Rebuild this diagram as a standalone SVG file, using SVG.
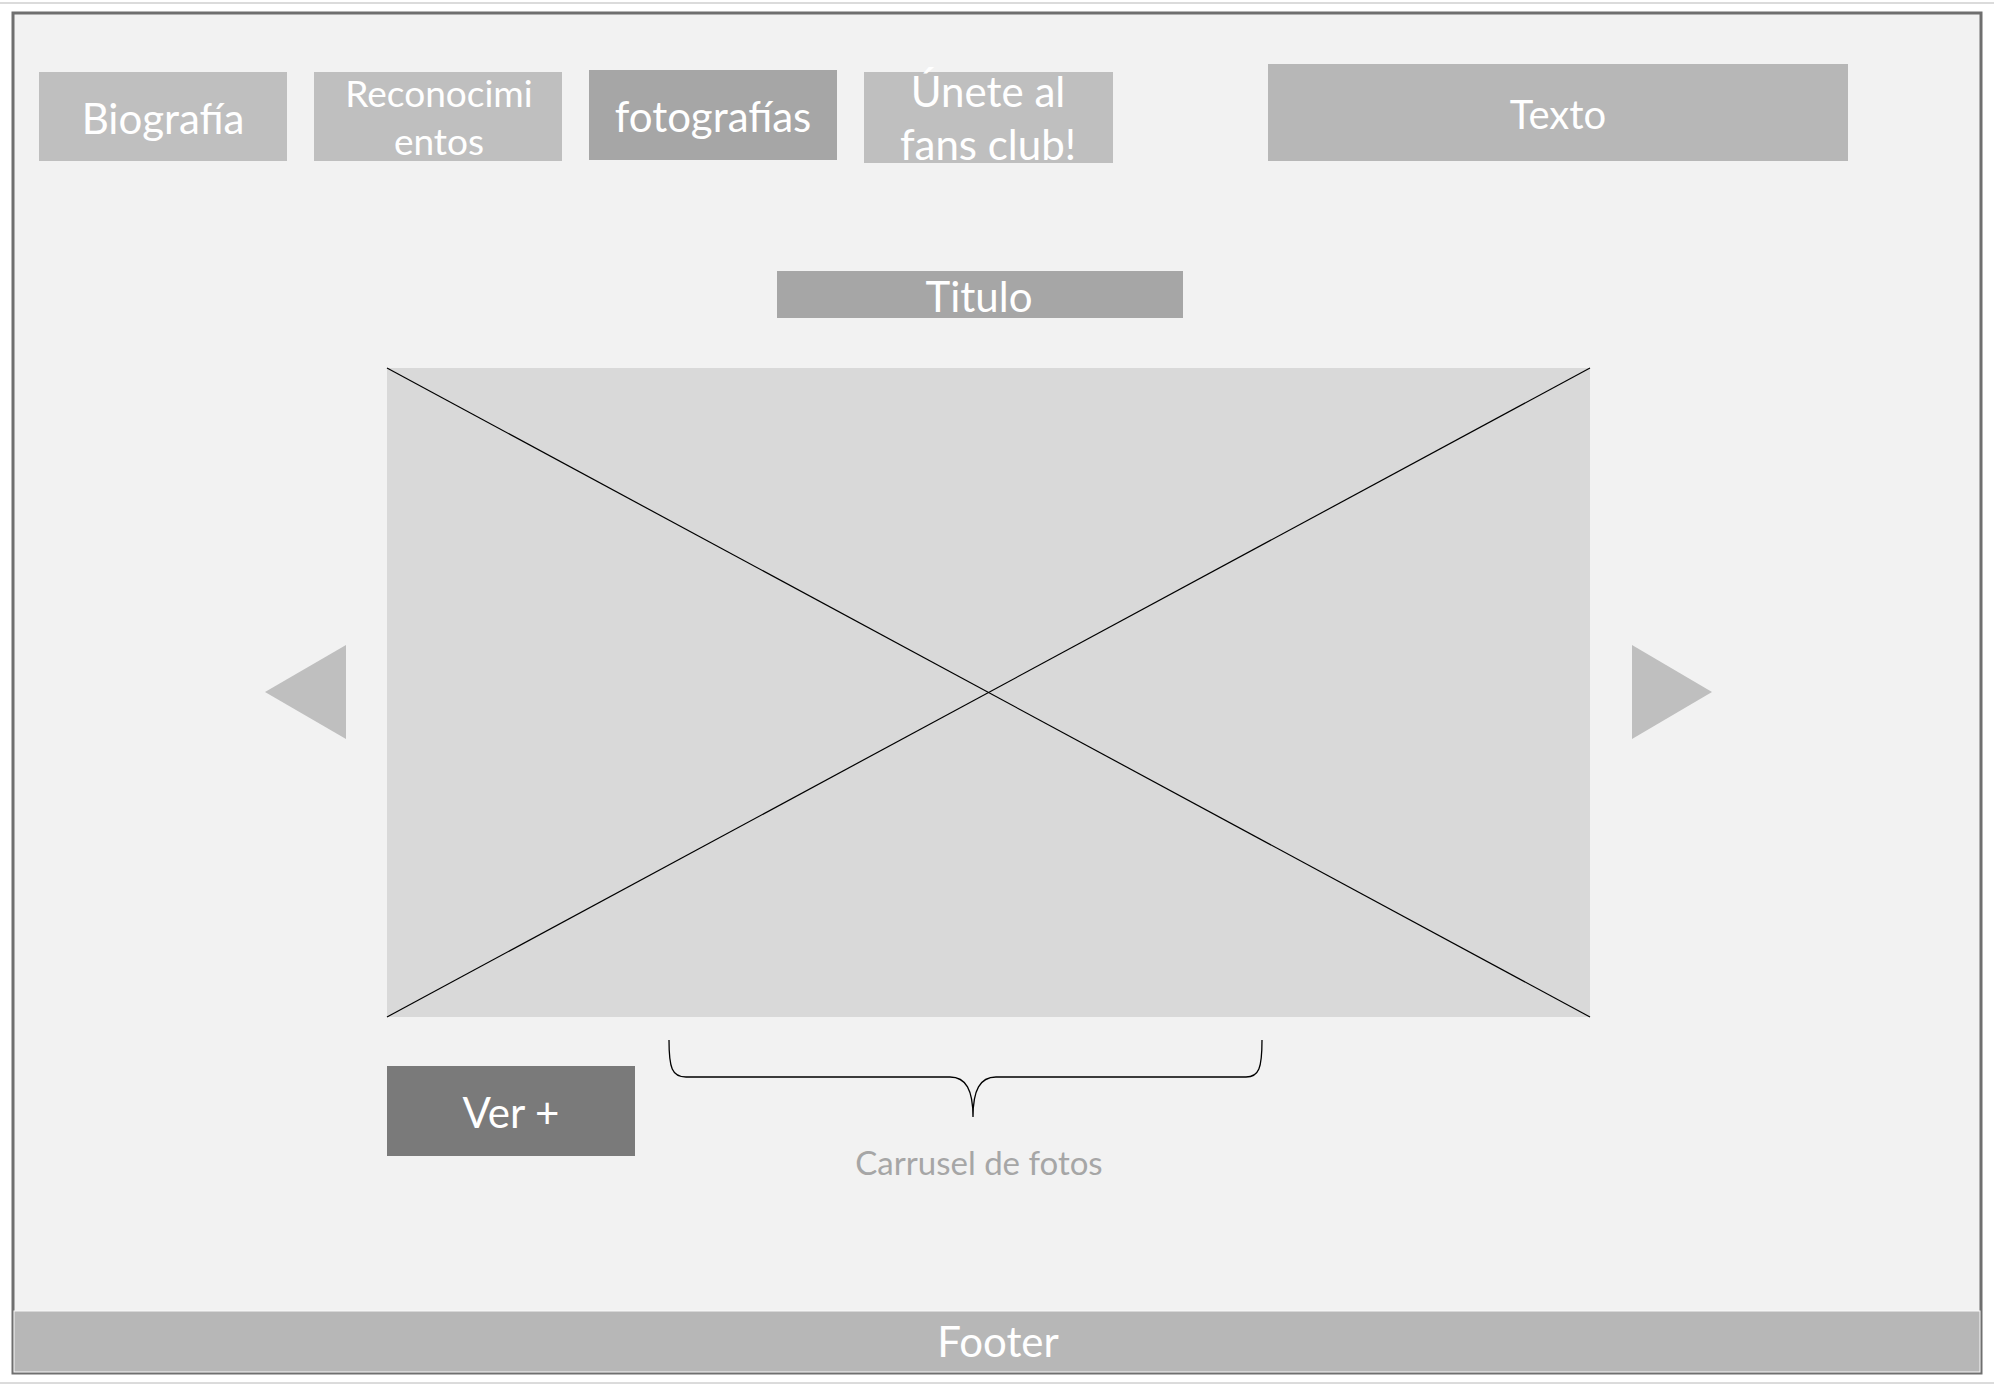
<svg xmlns="http://www.w3.org/2000/svg" width="1994" height="1385" viewBox="0 0 1994 1385">
<style>
.t{font-family:Lato,"Open Sans","Liberation Sans",sans-serif;fill:#ffffff;text-anchor:middle}
.nav{fill:#bfbfbf}
.dark{fill:#a6a6a6}
</style>
<rect x="0" y="0" width="1994" height="1385" fill="#ffffff"/>
<rect x="-2" y="3" width="1998" height="1380" fill="none" stroke="#d0d0d0" stroke-width="1.5"/>
<g id="page">
<rect x="13" y="13" width="1968" height="1360" fill="#f2f2f2" stroke="#6f6f6f" stroke-width="3"/>
</g>
<g id="nav-biografia">
<rect class="nav" x="39" y="72" width="248" height="89"/>
<text class="t" x="163" y="134" font-size="42">Biografía</text>
</g>
<g id="nav-reconocimientos">
<rect class="nav" x="314" y="72" width="248" height="89"/>
<text class="t" x="439" y="107" font-size="37">Reconocimi</text>
<text class="t" x="439" y="155" font-size="37">entos</text>
</g>
<g id="nav-fotografias">
<rect class="dark" x="589" y="70" width="248" height="90"/>
<text class="t" x="713" y="132" font-size="42">fotografías</text>
</g>
<g id="nav-fansclub">
<rect class="nav" x="864" y="72" width="249" height="91"/>
<text class="t" x="988" y="107" font-size="42">Únete al</text>
<text class="t" x="988" y="160" font-size="42">fans club!</text>
</g>
<g id="texto">
<rect x="1268" y="64" width="580" height="97" fill="#b7b7b7"/>
<text class="t" x="1558" y="129" font-size="40">Texto</text>
</g>
<g id="titulo">
<rect class="dark" x="777" y="271" width="406" height="47"/>
<text class="t" x="979" y="312" font-size="42">Titulo</text>
</g>
<g id="image-placeholder">
<rect x="387" y="368" width="1203" height="649" fill="#d9d9d9"/>
<line x1="387" y1="368" x2="1590" y2="1017" stroke="#000000" stroke-width="1.2"/>
<line x1="387" y1="1017" x2="1590" y2="368" stroke="#000000" stroke-width="1.2"/>
</g>
<g id="arrow-left">
<polygon points="265,692 346,645 346,739" fill="#bfbfbf"/>
</g>
<g id="arrow-right">
<polygon points="1632,645 1632,739 1712,692" fill="#bfbfbf"/>
</g>
<g id="ver-mas">
<rect x="387" y="1066" width="248" height="90" fill="#7a7a7a"/>
<text class="t" x="511" y="1128" font-size="42">Ver +</text>
</g>
<g id="connectors">
<path d="M669 1040 C669 1068 672 1077 686 1077 L950 1077 C966 1077 973 1090 973 1117 C973 1090 980 1077 996 1077 L1246 1077 C1259 1077 1262 1068 1262 1040" fill="none" stroke="#000000" stroke-width="1.3"/>
</g>
<g id="carrusel-label">
<text x="979" y="1175" font-family="Lato,'Open Sans','Liberation Sans',sans-serif" font-size="33" fill="#a6a6a6" text-anchor="middle">Carrusel de fotos</text>
</g>
<g id="footer">
<rect x="14" y="1311" width="1966" height="61" fill="#b7b7b7" stroke="#f7f7f7" stroke-width="1"/>
<text class="t" x="998" y="1357" font-size="42">Footer</text>
</g>
</svg>
